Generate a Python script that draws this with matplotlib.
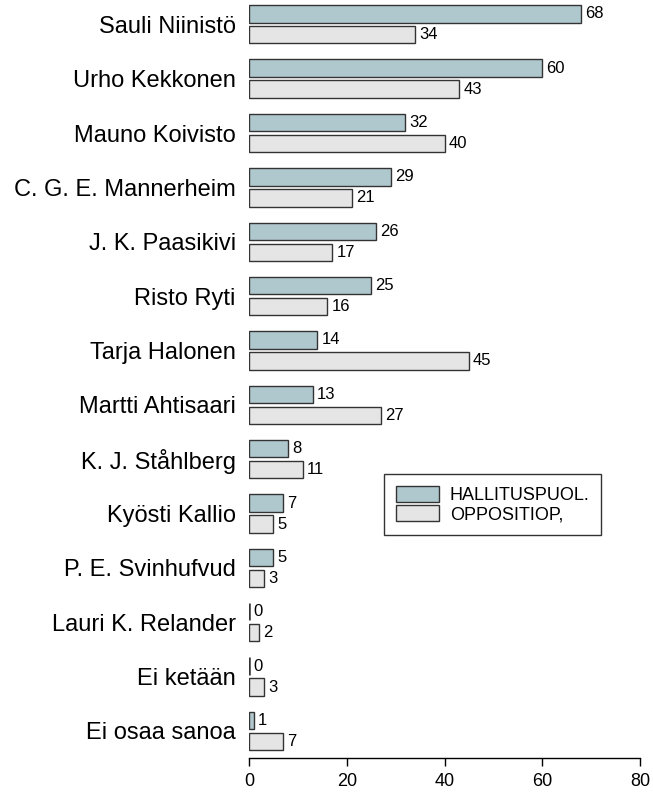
import numpy as np
import matplotlib
matplotlib.use("Agg")
import matplotlib.pyplot as plt

plt.rcParams['font.family'] = ['Liberation Sans', 'DejaVu Sans']

# Candidates, top to bottom
names = ["Sauli Niinistö", "Urho Kekkonen", "Mauno Koivisto", "C. G. E. Mannerheim",
         "J. K. Paasikivi", "Risto Ryti", "Tarja Halonen", "Martti Ahtisaari",
         "K. J. Ståhlberg", "Kyösti Kallio", "P. E. Svinhufvud", "Lauri K. Relander",
         "Ei ketään", "Ei osaa sanoa"]
hallitus = [68, 60, 32, 29, 26, 25, 14, 13, 8, 7, 5, 0, 0, 1]
oppositio = [34, 43, 40, 21, 17, 16, 45, 27, 11, 5, 3, 2, 3, 7]
series_labels = ["HALLITUSPUOL.", "OPPOSITIOP,"]
xticks = [0, 20, 40, 60, 80]

teal = "#AFC8CE"
grey = "#E5E5E5"
edge = "#333333"

fig = plt.figure(figsize=(6.53, 7.93), dpi=100)
ax = fig.add_axes([249 / 653, 35 / 793, 391 / 653, 758 / 793])

y = -np.arange(len(names))
off = 0.193
h = 0.32

# zero-length bars show up as a heavier stroke in the original
lw1 = [1.8 if v == 0 else 1.0 for v in hallitus]
lw2 = [1.8 if v == 0 else 1.0 for v in oppositio]

ax.barh(y + off, hallitus, height=h, color=teal, edgecolor=edge, linewidth=lw1,
        label=series_labels[0])
ax.barh(y - off, oppositio, height=h, color=grey, edgecolor=edge, linewidth=lw2,
        label=series_labels[1])

# value labels
for yy, v in zip(y + off, hallitus):
    ax.annotate(str(v), (v, yy), xytext=(3, 0), textcoords="offset points",
                ha="left", va="center", fontsize=12)
for yy, v in zip(y - off, oppositio):
    ax.annotate(str(v), (v, yy), xytext=(3, 0), textcoords="offset points",
                ha="left", va="center", fontsize=12)

ax.set_xlim(0, 80)
ax.set_ylim(-13.497, 0.447)
ax.set_xticks(xticks)
ax.set_xticklabels([str(t) for t in xticks], fontsize=13)
ax.set_yticks(y)
ax.set_yticklabels(names, fontsize=17)
ax.tick_params(axis="y", length=0, pad=9.5)
ax.tick_params(axis="x", length=6, width=1, pad=5, color="black")

for s in ["top", "right", "left"]:
    ax.spines[s].set_visible(False)
ax.spines["bottom"].set_linewidth(1)
ax.patch.set_visible(False)

leg = ax.legend(loc="upper left", bbox_to_anchor=((384 - 249) / 391, (758 - 474) / 758),
                fontsize=13, frameon=True, fancybox=False, edgecolor="black",
                handlelength=2.4, handleheight=1.0, handletextpad=0.6,
                labelspacing=0.05, borderpad=0.65, borderaxespad=0)
leg.get_frame().set_linewidth(1)

fig.savefig("out.png", dpi=100)
